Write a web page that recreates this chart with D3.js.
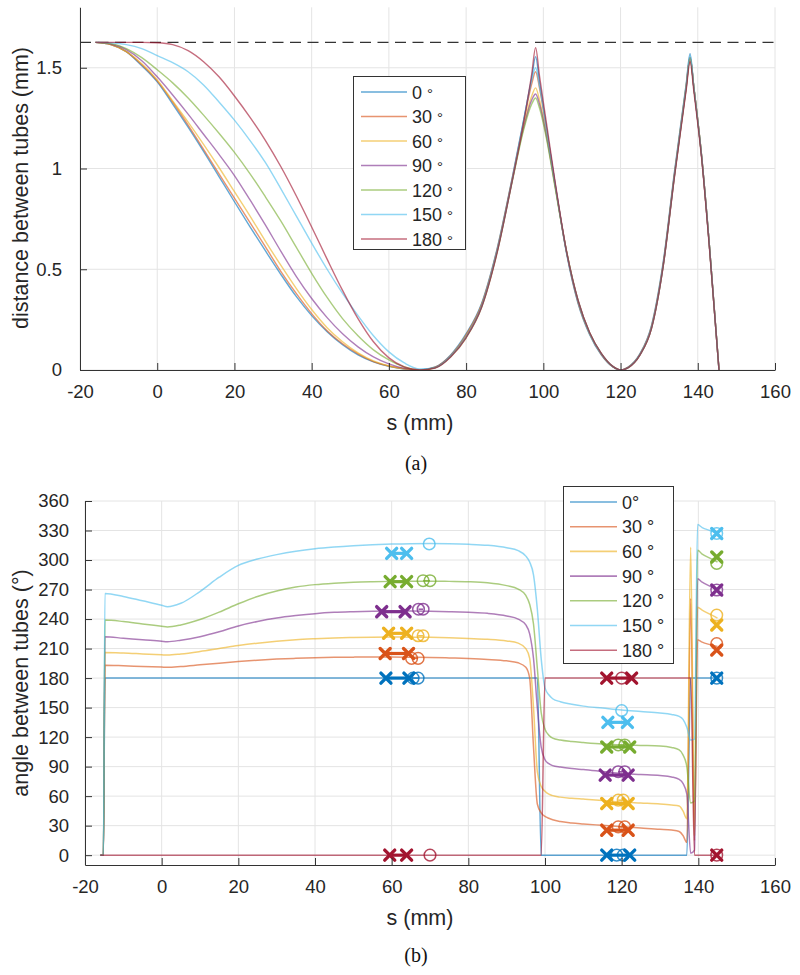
<!DOCTYPE html>
<html>
<head>
<meta charset="utf-8">
<script src="https://cdn.jsdelivr.net/npm/d3@7/dist/d3.min.js"></script>
<style>
html,body{margin:0;padding:0;background:#fff;}
svg{display:block;}
</style>
</head>
<body>
<svg id="chart" width="800" height="975"></svg>
<script>
// ---------------- DATA ----------------
const angles = [0, 30, 60, 90, 120, 150, 180];
const legendLabelsTop = ["0", "30", "60", "90", "120", "150", "180"];
const legendLabelsBottom = ["0°", "30 °", "60 °", "90 °", "120 °", "150 °", "180 °"];
const seriesColors = ["#0072BD", "#D95319", "#EDB120", "#7E2F8E", "#77AC30", "#4DBEEE", "#A2142F"];
const xTickValues = [-20, 0, 20, 40, 60, 80, 100, 120, 140, 160];
const yTickValuesTop = [0, 0.5, 1, 1.5];
const yTickValuesBottom = [0, 30, 60, 90, 120, 150, 180, 210, 240, 270, 300, 330, 360];
const contactDistance = 1.626;

// (a) distance between tubes (mm) vs s (mm)
const sTop = [-16, -12, -8, -4, 0, 4, 8, 12, 16, 20, 24, 28, 32, 36, 40, 44, 48, 52, 56, 60, 64, 68,
  72, 76, 80, 84, 88, 92, 95, 97, 98, 99, 101, 103, 106, 109, 112, 115, 118, 120, 122, 125, 128, 131, 134, 137, 138, 139, 141, 143, 145.5];
const dist0 = [1.626,1.615,1.58,1.51,1.43,1.32,1.205,1.085,0.96,0.835,0.712,0.592,0.475,0.365,0.27,0.19,0.125,0.075,0.04,0.018,0.005,0,
  0.015,0.075,0.18,0.33,0.60,0.96,1.25,1.45,1.555,1.43,1.18,0.93,0.58,0.33,0.175,0.075,0.015,0,0.015,0.08,0.22,0.53,0.99,1.42,1.57,1.40,1.06,0.62,0];
const dist30 = [1.626,1.615,1.58,1.515,1.435,1.33,1.215,1.095,0.973,0.853,0.733,0.612,0.49,0.38,0.28,0.195,0.13,0.08,0.042,0.02,0.006,0,
  0.014,0.072,0.175,0.325,0.595,0.955,1.24,1.42,1.48,1.40,1.17,0.93,0.585,0.335,0.18,0.078,0.016,0,0.014,0.078,0.215,0.52,0.98,1.41,1.55,1.40,1.06,0.62,0];
const dist60 = [1.626,1.615,1.58,1.52,1.44,1.335,1.23,1.12,1.005,0.885,0.765,0.64,0.52,0.405,0.30,0.21,0.14,0.085,0.045,0.02,0.006,0,
  0.013,0.07,0.17,0.32,0.59,0.95,1.22,1.36,1.40,1.34,1.15,0.92,0.59,0.34,0.18,0.08,0.017,0,0.013,0.076,0.21,0.515,0.975,1.41,1.55,1.40,1.06,0.62,0];
const dist90 = [1.626,1.618,1.59,1.535,1.455,1.365,1.27,1.17,1.07,0.965,0.845,0.72,0.59,0.465,0.355,0.26,0.18,0.115,0.065,0.03,0.008,0,
  0.012,0.068,0.165,0.315,0.585,0.945,1.21,1.34,1.37,1.32,1.14,0.92,0.59,0.345,0.185,0.082,0.018,0,0.012,0.074,0.205,0.51,0.97,1.40,1.55,1.40,1.06,0.62,0];
const dist120 = [1.626,1.62,1.595,1.55,1.49,1.425,1.35,1.265,1.175,1.08,0.975,0.86,0.74,0.61,0.48,0.36,0.255,0.17,0.10,0.05,0.015,0,
  0.011,0.066,0.16,0.31,0.58,0.94,1.20,1.32,1.35,1.30,1.13,0.91,0.59,0.345,0.185,0.083,0.018,0,0.012,0.074,0.205,0.51,0.97,1.40,1.55,1.40,1.06,0.62,0];
const dist150 = [1.626,1.624,1.615,1.595,1.56,1.525,1.48,1.415,1.33,1.24,1.14,1.03,0.90,0.765,0.63,0.50,0.38,0.27,0.17,0.09,0.035,0.005,
  0.012,0.068,0.165,0.315,0.59,0.95,1.25,1.44,1.50,1.41,1.17,0.93,0.585,0.34,0.18,0.08,0.017,0,0.013,0.076,0.21,0.515,0.975,1.41,1.56,1.40,1.06,0.62,0];
const dist180 = [1.626,1.626,1.626,1.626,1.624,1.615,1.585,1.53,1.455,1.36,1.255,1.14,1.01,0.865,0.71,0.55,0.395,0.255,0.14,0.06,0.015,0,
  0.01,0.065,0.16,0.31,0.58,0.945,1.24,1.47,1.60,1.46,1.20,0.94,0.59,0.345,0.185,0.083,0.018,0,0.012,0.074,0.205,0.51,0.965,1.39,1.53,1.38,1.05,0.61,0];

// (b) angle between tubes (°) vs s (mm)
const sBot = [-16, -15.2, -14.8, -10, -5, 0, 1.5, 5, 10, 15, 20, 25, 30, 35, 40, 45, 50, 55, 60, 65, 70, 75, 80, 85, 90, 93,
  95, 96, 97, 98, 99, 100, 101, 102, 104, 107, 110, 115, 120, 125, 130, 133, 135, 136, 137, 138, 139, 139.8, 141, 143, 145];
const ang0 = [0,0,180,180,180,180,180,180,180,180,180,180,180,180,180,180,180,180,180,180,180,180,180,180,180,180,
  180,180,180,180,0,0,0,0,0,0,0,0,0,0,0,0,0,0,0,180,180,180,180,180,180];
const ang30 = [0,0,193,192.5,191.8,191.2,191,191.8,193.5,195.2,196.8,198.2,199.3,200.1,200.7,201.1,201.3,201.4,201.4,201.2,201,200.5,199.9,199,197.5,195.5,
  191,180,110,52,43,39.5,37.5,36,34.2,32.8,31.8,30.3,28.8,27.6,26.4,25.5,24,20,13,261,15,219,216.5,214,212];
const ang60 = [0,0,206,205.5,204.6,203.7,203.4,204.5,207,210,213,215.5,217.5,219,220,220.8,221.3,221.6,221.7,221.6,221.4,221,220.3,219.5,217.8,215.5,
  210,200,150,85,70,65,62,60.5,59,57.8,57,55.6,54,53,52,51,50,45,37,313,20,252,249,245,241];
const ang90 = [0,0,222,220.5,219,217.4,217,218.5,222,227,233,237.5,241,243.5,245.5,246.8,247.5,248,248.2,248.2,248,247.5,246.8,245.8,243.2,240,
  234,225,200,150,110,97,93,91,89.5,88,87,85,83,82,81,79.5,77,73,62,2,5,281,277.5,273.5,269.5];
const ang120 = [0,0,239,237.5,235,232.7,232,234,239.5,247,255.5,263,268.5,272.5,275,276.5,277.5,278,278.3,278.5,278.5,278.3,278,277,274,270.5,
  264,255,235,190,145,128,122,119,117,115.5,114.5,113,112,111.5,111,109.5,107,102,90,53,55,310,306,302,298];
const ang150 = [0,0,266,263,258.5,254,252.5,256,268,282.5,294.5,301,305.5,309,311.5,313.2,314.5,315.5,316.2,316.6,316.7,316.5,316,315,312.5,309.5,
  304,298,285,250,200,170,163,159,156,153.5,151.5,149.5,147.5,146,144.5,143,141,138,130,117,118,336,333,330,327];
const ang180 = [0,0,0,0,0,0,0,0,0,0,0,0,0,0,0,0,0,0,0,0,0,0,0,0,0,0,
  0,0,0,0,0,180,180,180,180,180,180,180,180,180,180,180,180,180,180,180,0,0,0,0,0];

// markers (x-crosses and circles), one entry per angle
const crossS1 = [[58.5,64.5],[58.3,64.4],[59.2,63.9],[57.4,63.5],[59.6,63.9],[60.0,63.9],[59.5,63.9]];
const crossV1 = [180, 205, 225.5, 247.5, 278, 306.8, 0];
const crossS2 = [[116.1,122.1],[116.1,121.7],[116.1,121.7],[115.7,121.7],[116.1,122.1],[116.4,121.5],[116.1,122.6]];
const crossV2 = [0, 25.4, 52.5, 81.4, 110, 135, 180];
const crossS3 = [144.8, 144.8, 144.8, 144.8, 144.8, 144.8, 144.8];
const crossV3 = [180, 208.5, 234, 269.5, 303, 327, 0];
const circS1 = [[65.6,66.9],[65.2,66.9],[66.9,68.2],[67.0,68.2],[68.2,70.0],[69.8],[70.0]];
const circV1 = [180, 200, 223, 250, 279, 316.3, 0];
const circS2 = [[118.7,120.4],[119.1,120.8],[119.1,120.4],[119.1,120.8],[119.1,120.8],[120.0],[120.0]];
const circV2 = [0, 28.8, 55.9, 84.8, 112, 147, 180];
const circS3 = [144.8, 144.8, 144.8, 144.8, 144.8, 144.8, 144.8];
const circV3 = [180, 215, 244, 269.5, 296.6, 327, 0];

// ---------------- DRAWING ----------------
const distSeries = [dist0, dist30, dist60, dist90, dist120, dist150, dist180];
const angSeries = [ang0, ang30, ang60, ang90, ang120, ang150, ang180];
const FONT = '"Liberation Sans", Arial, Helvetica, sans-serif';
const AXIS_COLOR = "#333";
const GRID_COLOR = "#e4e4e4";
const LINE_OPACITY = 0.62;

const svg = d3.select("#chart");
svg.append("rect").attr("width", 800).attr("height", 975).attr("fill", "#fff");

function drawFrame(x, y, yTicks) {
  const g = svg.append("g");
  const [x0, x1] = x.range();
  const [yb, yt] = y.range();
  g.selectAll(null).data(xTickValues).enter().append("line")
    .attr("x1", d => x(d)).attr("x2", d => x(d)).attr("y1", yb).attr("y2", yt)
    .attr("stroke", GRID_COLOR).attr("stroke-width", 1);
  g.selectAll(null).data(yTicks).enter().append("line")
    .attr("x1", x0).attr("x2", x1).attr("y1", d => y(d)).attr("y2", d => y(d))
    .attr("stroke", GRID_COLOR).attr("stroke-width", 1);
  return g;
}

function drawAxes(x, y, yTicks, yFmt, yPad) {
  const [yb] = y.range();
  const [x0] = x.range();
  const ax = svg.append("g").attr("transform", `translate(0,${yb})`)
    .call(d3.axisBottom(x).tickValues(xTickValues).tickSizeInner(-7).tickSizeOuter(0).tickPadding(15).tickFormat(d => String(d)));
  const ay = svg.append("g").attr("transform", `translate(${x0},0)`)
    .call(d3.axisLeft(y).tickValues(yTicks).tickSizeInner(-7).tickSizeOuter(0).tickPadding(yPad).tickFormat(yFmt));
  [ax, ay].forEach(a => {
    a.select(".domain").attr("stroke", AXIS_COLOR).attr("stroke-width", 1);
    a.selectAll(".tick line").attr("stroke", AXIS_COLOR).attr("stroke-width", 1);
    a.selectAll(".tick text").attr("fill", "#262626").style("font-family", FONT).style("font-size", "18.5px");
  });
}

function drawLegend(x, y, w, h, labels, spacing, lineX1, lineX2, textX, degSmall) {
  const g = svg.append("g");
  g.append("rect").attr("x", x + 0.5).attr("y", y + 0.5).attr("width", w).attr("height", h)
    .attr("fill", "#fff").attr("stroke", "#333").attr("stroke-width", 1);
  labels.forEach((lab, i) => {
    const cy = y + 16 + i * spacing;
    g.append("line").attr("x1", lineX1).attr("x2", lineX2).attr("y1", cy).attr("y2", cy)
      .attr("stroke", seriesColors[i]).attr("stroke-opacity", LINE_OPACITY).attr("stroke-width", 1.6);
    const t = g.append("text").attr("x", textX).attr("y", cy + 6.5)
      .attr("fill", "#262626").style("font-family", FONT).style("font-size", "18px");
    if (degSmall) {
      t.append("tspan").text(lab + " ");
      t.append("tspan").text("°").style("font-size", "15px");
    } else {
      t.text(lab);
    }
  });
}

// ---------- Panel (a) ----------
const xT = d3.scaleLinear().domain([-20, 160]).range([80, 775]);
const yT = d3.scaleLinear().domain([0, 1.8]).range([370, 7.3]);
drawFrame(xT, yT, yTickValuesTop);

svg.append("line").attr("x1", xT(-20)).attr("x2", xT(160))
  .attr("y1", yT(contactDistance)).attr("y2", yT(contactDistance))
  .attr("stroke", "#333").attr("stroke-width", 1.3).attr("stroke-dasharray", "11,6.5");

const lineTop = d3.line().x(d => xT(d[0])).y(d => yT(d[1])).curve(d3.curveMonotoneX);
distSeries.forEach((vals, i) => {
  svg.append("path").datum(sTop.map((s, j) => [s, vals[j]]))
    .attr("d", lineTop).attr("fill", "none")
    .attr("stroke", seriesColors[i]).attr("stroke-opacity", LINE_OPACITY).attr("stroke-width", 1.4);
});
drawAxes(xT, yT, yTickValuesTop, d => String(d), 18);
drawLegend(353, 76, 112, 173, legendLabelsTop, 24.5, 361, 407, 412, true);

svg.append("text").attr("transform", "translate(28,188) rotate(-90)").attr("text-anchor", "middle")
  .attr("fill", "#262626").style("font-family", FONT).style("font-size", "21.5px").text("distance between tubes (mm)");
svg.append("text").attr("x", 420).attr("y", 430).attr("text-anchor", "middle")
  .attr("fill", "#262626").style("font-family", FONT).style("font-size", "21.5px").text("s (mm)");
svg.append("text").attr("x", 416).attr("y", 470).attr("text-anchor", "middle")
  .attr("fill", "#111").style("font-family", '"Liberation Serif", "Times New Roman", serif').style("font-size", "20px").text("(a)");

// ---------- Panel (b) ----------
const xB = d3.scaleLinear().domain([-20, 160]).range([85, 775]);
const yB = d3.scaleLinear().domain([-10, 360]).range([865, 501]);
drawFrame(xB, yB, yTickValuesBottom);

const lineBot = d3.line().x(d => xB(d[0])).y(d => yB(d[1])).curve(d3.curveMonotoneX);
angSeries.forEach((vals, i) => {
  svg.append("path").datum(sBot.map((s, j) => [s, vals[j]]))
    .attr("d", lineBot).attr("fill", "none")
    .attr("stroke", seriesColors[i]).attr("stroke-opacity", LINE_OPACITY).attr("stroke-width", 1.5);
});

function crossPath(cx, cy, r) {
  return `M${cx - r},${cy - r}L${cx + r},${cy + r}M${cx - r},${cy + r}L${cx + r},${cy - r}`;
}
const mg = svg.append("g");
angles.forEach((a, i) => {
  const c = seriesColors[i];
  [[circS1[i], circV1[i]], [circS2[i], circV2[i]], [[circS3[i]], circV3[i]]].forEach(([ss, v]) => {
    if (ss.length > 1) {
      mg.append("line").attr("x1", xB(ss[0])).attr("x2", xB(ss[ss.length - 1]))
        .attr("y1", yB(v)).attr("y2", yB(v)).attr("stroke", c).attr("stroke-opacity", 0.8).attr("stroke-width", 1.5);
    }
    ss.forEach(s => {
      mg.append("circle").attr("cx", xB(s)).attr("cy", yB(v)).attr("r", 5.8)
        .attr("fill", "none").attr("stroke", c).attr("stroke-opacity", 0.8).attr("stroke-width", 1.5);
    });
  });
  [[crossS1[i], crossV1[i]], [crossS2[i], crossV2[i]], [[crossS3[i]], crossV3[i]]].forEach(([ss, v]) => {
    if (ss.length > 1) {
      mg.append("line").attr("x1", xB(ss[0])).attr("x2", xB(ss[ss.length - 1]))
        .attr("y1", yB(v)).attr("y2", yB(v)).attr("stroke", c).attr("stroke-width", 3.2);
    }
    ss.forEach(s => {
      mg.append("path").attr("d", crossPath(xB(s), yB(v), 5))
        .attr("fill", "none").attr("stroke", c).attr("stroke-width", 3.4).attr("stroke-linecap", "round");
    });
  });
});

drawAxes(xB, yB, yTickValuesBottom, d => String(d), 16);
drawLegend(563, 486, 110, 177, legendLabelsBottom, 24.7, 570, 617, 622, false);

svg.append("text").attr("transform", "translate(28,683) rotate(-90)").attr("text-anchor", "middle")
  .attr("fill", "#262626").style("font-family", FONT).style("font-size", "21.5px").text("angle between tubes (°)");
svg.append("text").attr("x", 420).attr("y", 925).attr("text-anchor", "middle")
  .attr("fill", "#262626").style("font-family", FONT).style("font-size", "21.5px").text("s (mm)");
svg.append("text").attr("x", 416).attr("y", 962).attr("text-anchor", "middle")
  .attr("fill", "#111").style("font-family", '"Liberation Serif", "Times New Roman", serif').style("font-size", "20px").text("(b)");
</script>
</body>
</html>
